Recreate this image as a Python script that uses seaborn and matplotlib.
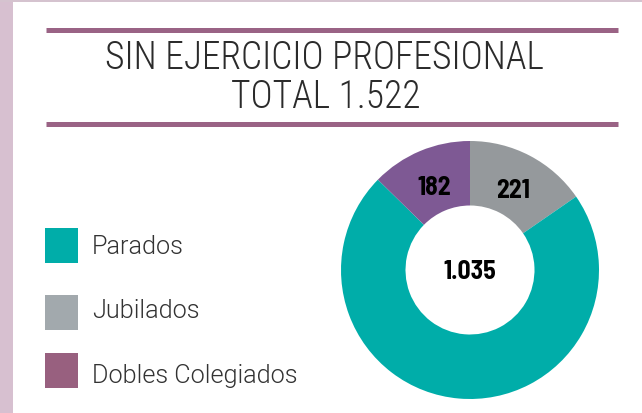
import matplotlib
matplotlib.use("Agg")
import numpy as np
import matplotlib.pyplot as plt
from matplotlib.patches import Rectangle
import seaborn as sns

# - data - #
title_lines = ["SIN EJERCICIO PROFESIONAL", "TOTAL 1.522"]
categories = ["Parados", "Jubilados", "Dobles Colegiados"]
values = [1035, 221, 182]
value_labels = ["1.035", "221", "182"]
donut_colors = ["#00ADA9", "#95999C", "#7E5994"]
legend_colors = ["#00ADA9", "#A2A9AD", "#98607F"]

sns.set_theme(style="white")
plt.rcParams["font.family"] = ["Roboto", "DejaVu Sans"]
title_font = ["Roboto Condensed", "DejaVu Sans"]
num_font = ["Barlow Semi Condensed", "DejaVu Sans"]

W, H = 642, 414
fig = plt.figure(figsize=(W / 100, H / 100), dpi=100, facecolor="white")

def px(x, y):
    # pixel (from top-left) -> figure fraction
    return x / W, 1 - y / H

# frame strips
fig.add_artist(Rectangle((0, 0), 13 / W, 1, transform=fig.transFigure,
                         color="#D7C0D0", lw=0, zorder=0))
fig.add_artist(Rectangle((0, 1 - 3 / H), 1, 3 / H, transform=fig.transFigure,
                         color="#D5C3CF", lw=0, zorder=0))

# title lines
for yy in (30.5, 124.5):
    x0, y0 = px(46, yy)
    x1, _ = px(618, yy)
    fig.add_artist(plt.Line2D([x0, x1], [y0, y0], transform=fig.transFigure,
                              color="#9A6385", lw=3.6, solid_capstyle="butt"))

fig.text(*px(324, 58), title_lines[0], ha="center", va="center",
         family=title_font, fontweight=300, fontsize=27, color="#2b2b2b")
fig.text(*px(326, 97), title_lines[1], ha="center", va="center",
         family=title_font, fontweight=300, fontsize=27, color="#2b2b2b")

# legend (manual)
sq_tops = [229, 296, 354]
baselines = [254, 318, 383]
for cat, col, top, bl in zip(categories, legend_colors, sq_tops, baselines):
    x0, y0 = px(45, top + 35)
    fig.add_artist(Rectangle((x0, y0), 33 / W, 35 / H, transform=fig.transFigure,
                             color=col, lw=0))
    fig.text(*px(92, bl), cat, ha="left", va="baseline", fontsize=18.2,
             fontweight=300, color="#333333")

# donut
cx, cy, R = 470, 271, 129
ax = fig.add_axes([(cx - R) / W, 1 - (cy + R) / H, 2 * R / W, 2 * R / H])
order = [1, 0, 2]  # gray clockwise from top, then teal, then purple
sizes = [values[i] for i in order]
cols = [donut_colors[i] for i in order]
wedges, _ = ax.pie(sizes, colors=cols, startangle=90, counterclock=False,
                   radius=1, wedgeprops=dict(width=0.5, edgecolor="none"))
ax.set_xlim(-1, 1)
ax.set_ylim(-1, 1)
ax.set_aspect("equal")
ax.axis("off")

for w, i in zip(wedges, order):
    if i == 0:
        ax.text(0, -0.01, value_labels[i], ha="center", va="center", family=num_font,
                fontweight="bold", fontsize=18.5, color="black")
    else:
        ang = np.deg2rad((w.theta1 + w.theta2) / 2)
        r = 0.72
        ax.text(r * np.cos(ang), r * np.sin(ang) - 0.02, value_labels[i],
                ha="center", va="center", family=num_font, fontweight="bold",
                fontsize=18.5, color="black")

fig.savefig("out.png", dpi=100, facecolor="white")
